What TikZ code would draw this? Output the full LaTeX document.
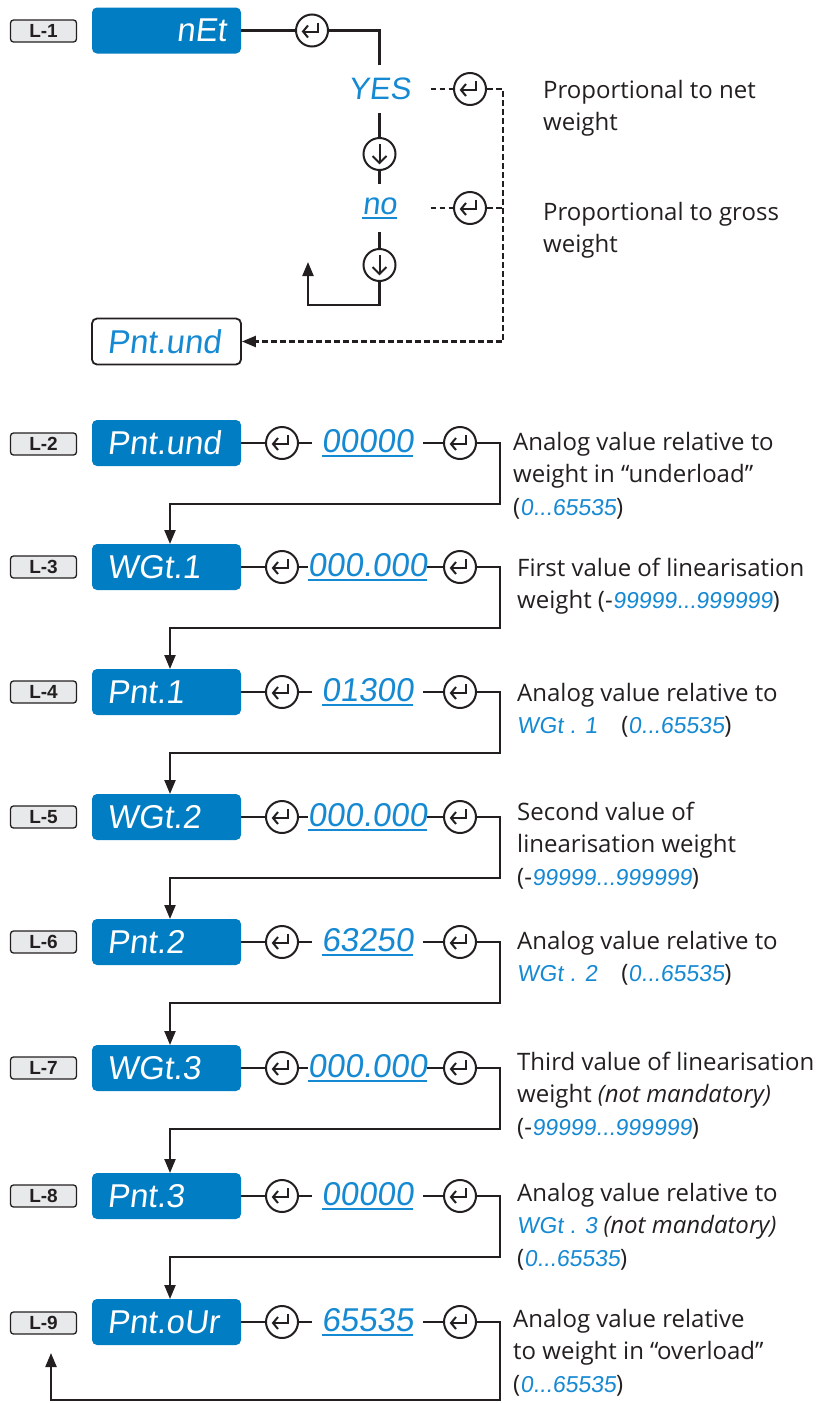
\documentclass[tikz,border=0pt]{standalone}
\usepackage{fontspec}
\setmainfont{Open Sans}
\newfontfamily\seg[FakeSlant=0.12]{Liberation Sans}
\newfontfamily\lblfont{Liberation Sans Bold}
\usetikzlibrary{arrows.meta}
\definecolor{boxblue}{HTML}{007DC3}
\definecolor{segblue}{HTML}{1689D3}
\definecolor{txt}{HTML}{231F20}
\definecolor{lblfill}{HTML}{E8E9EA}
\newcommand\sv[1]{{\seg\fontsize{23}{23}\selectfont\color{segblue}#1}}
\newcommand\segul[1]{\setbox0\hbox{#1}\rlap{\rule[-4.5pt]{\wd0}{1.5pt}}\box0}
\newcommand\fs{\rule{0pt}{24pt}}
\tikzset{
  conn/.style={line width=2.2pt, draw=txt},
  dsh/.style={conn, dash pattern=on 5.5pt off 3.5pt},
  arr/.style={conn, -{Triangle[length=14pt,width=11pt]}},
  lbl/.style={draw=txt, fill=lblfill, rounded corners=3pt, minimum width=66pt,
    minimum height=22pt, inner sep=0pt, line width=1.3pt, text=txt,
    font=\lblfont\fontsize{19}{19}\selectfont},
  disp/.style={fill=boxblue, rounded corners=5pt, minimum width=149pt, minimum height=46pt,
    inner xsep=15pt, inner ysep=0pt, text width=119pt, align=left, text=white,
    font=\seg\fontsize{33}{33}\selectfont},
  dispo/.style={disp, fill=white, draw=txt, line width=1.8pt, text=segblue},
  ent/.style={circle, draw=txt, line width=2pt, minimum size=32pt, inner sep=0pt,
    path picture={
      \draw[line width=2pt, line join=miter]
        ([shift={(6,-8)}]path picture bounding box.center) -- ++(0,9) -- ++(-15,0);
      \draw[line width=2pt, line join=miter]
        ([shift={(-4,-5)}]path picture bounding box.center) -- ++(-5,6) -- ++(5,6);
    }},
  dn/.style={circle, draw=txt, line width=2pt, minimum size=32pt, inner sep=0pt,
    path picture={
      \draw[line width=2pt]
        ([shift={(0,-10)}]path picture bounding box.center) -- ++(0,19);
      \draw[line width=2pt, line join=miter]
        ([shift={(-7,2)}]path picture bounding box.center) -- ++(7,7) -- ++(7,-7);
    }},
  val/.style={minimum width=111pt, minimum height=30pt, inner sep=0pt, text=segblue,
    font=\seg\fontsize{33}{33}\selectfont},
  opt/.style={minimum width=102pt, minimum height=48pt, inner sep=0pt, text=segblue,
    font=\seg\fontsize{31}{31}\selectfont},
  desc/.style={anchor=north west, inner sep=0pt, align=left, text=txt,
    font=\fontsize{24}{32.5}\selectfont},
}
\begin{document}
\begin{tikzpicture}[x=1pt,y=-1pt]
\useasboundingbox (0,0) rectangle (833,1403);

% ---------- L-1 ----------
\node[lbl] (L1) at (43.5,31) {L-1};
\node[disp, align=right] (B1) at (166.5,30.5) {nEt};
\node[ent] (e0) at (312,30.5) {};
\node[opt] (yes) at (379.5,89) {YES};
\node[dn] (d1) at (379.5,154) {};
\node[opt] (no) at (379.5,208) {\segul{no}};
\node[dn] (d2) at (379.5,265) {};
\node[ent] (e1) at (470,89) {};
\node[ent] (e2) at (470,208) {};
\coordinate (j1) at (503,89);
\coordinate (q1) at (308,305);
\coordinate (r1) at (308,262);
\node[dispo] (P0) at (166.5,341.5) {Pnt.und};
\draw[conn] (B1) -- (e0);
\draw[conn] (e0) -| (yes);
\draw[conn] (yes) -- (d1);
\draw[conn] (d1) -- (no);
\draw[conn] (no) -- (d2);
\draw[arr] (d2) |- (q1) -- (r1);
\draw[dsh] (yes) -- (e1);
\draw[dsh] (no) -- (e2);
\draw[dsh] (e2) -- (e2 -| j1);
\draw[dsh, -{Triangle[length=14pt,width=11pt]}] (e1) -- (j1) |- (P0);
\node[desc] (p1) at (543,74) {\fs Proportional to net\\weight};
\node[desc] (p2) at (543,196) {\fs Proportional to gross\\weight};

% ---------- rows 2..9 ----------
\node[lbl] (L2) at (43.5,444) {L-2};
\node[disp] (B2) at (166.5,443) {Pnt.und};
\node[ent] (a2) at (282,443) {};
\node[val] (v2) at (367.5,443) {\segul{00000}};
\node[ent] (b2) at (460,443) {};

\node[lbl] (L3) at (43.5,567) {L-3};
\node[disp] (B3) at (166.5,567) {WGt.1};
\node[ent] (a3) at (282,567) {};
\node[val] (v3) at (367.5,567) {\segul{000.000}};
\node[ent] (b3) at (460,567) {};

\node[lbl] (L4) at (43.5,692) {L-4};
\node[disp] (B4) at (166.5,692) {Pnt.1};
\node[ent] (a4) at (282,692) {};
\node[val] (v4) at (367.5,692) {\segul{01300}};
\node[ent] (b4) at (460,692) {};

\node[lbl] (L5) at (43.5,817) {L-5};
\node[disp] (B5) at (166.5,817) {WGt.2};
\node[ent] (a5) at (282,817) {};
\node[val] (v5) at (367.5,817) {\segul{000.000}};
\node[ent] (b5) at (460,817) {};

\node[lbl] (L6) at (43.5,942) {L-6};
\node[disp] (B6) at (166.5,942) {Pnt.2};
\node[ent] (a6) at (282,942) {};
\node[val] (v6) at (367.5,942) {\segul{63250}};
\node[ent] (b6) at (460,942) {};

\node[lbl] (L7) at (43.5,1068) {L-7};
\node[disp] (B7) at (166.5,1068) {WGt.3};
\node[ent] (a7) at (282,1068) {};
\node[val] (v7) at (367.5,1068) {\segul{000.000}};
\node[ent] (b7) at (460,1068) {};

\node[lbl] (L8) at (43.5,1196) {L-8};
\node[disp] (B8) at (166.5,1196) {Pnt.3};
\node[ent] (a8) at (282,1196) {};
\node[val] (v8) at (367.5,1196) {\segul{00000}};
\node[ent] (b8) at (460,1196) {};

\node[lbl] (L9) at (43.5,1323) {L-9};
\node[disp] (B9) at (166.5,1322) {Pnt.oUr};
\node[ent] (a9) at (282,1322) {};
\node[val] (v9) at (367.5,1322) {\segul{65535}};
\node[ent] (b9) at (460,1322) {};

\foreach \i in {2,...,9}{
  \draw[conn] (B\i) -- (a\i);
  \draw[conn] (a\i) -- (v\i);
  \draw[conn] (v\i) -- (b\i);
}
\coordinate (k2) at (500,504);  \coordinate (t3) at (170,544);
\coordinate (k3) at (500,628);  \coordinate (t4) at (170,669);
\coordinate (k4) at (500,753);  \coordinate (t5) at (170,794);
\coordinate (k5) at (500,878);  \coordinate (t6) at (170,919);
\coordinate (k6) at (500,1003); \coordinate (t7) at (170,1045);
\coordinate (k7) at (500,1129); \coordinate (t8) at (170,1173);
\coordinate (k8) at (500,1257); \coordinate (t9) at (170,1299);
\coordinate (k9) at (500,1400); \coordinate (r9) at (51,1353);
\draw[arr] (b2) -| (k2) -| (t3);
\draw[arr] (b3) -| (k3) -| (t4);
\draw[arr] (b4) -| (k4) -| (t5);
\draw[arr] (b5) -| (k5) -| (t6);
\draw[arr] (b6) -| (k6) -| (t7);
\draw[arr] (b7) -| (k7) -| (t8);
\draw[arr] (b8) -| (k8) -| (t9);
\draw[arr] (b9) -| (k9) -| (r9);

% ---------- descriptions ----------
\node[desc] (D2) at (513,426) {\fs Analog value relative to\\weight in “underload”\\(\sv{0...65535})};
\node[desc] (D3) at (517,552) {\fs First value of linearisation\\weight (-\sv{99999...999999})};
\node[desc] (D4) at (517,677) {\fs Analog value relative to\\\sv{WGt . 1}\quad(\sv{0...65535})};
\node[desc] (D5) at (517,796) {\fs Second value of\\linearisation weight\\(-\sv{99999...999999})};
\node[desc] (D6) at (517,925) {\fs Analog value relative to\\\sv{WGt . 2}\quad(\sv{0...65535})};
\node[desc] (D7) at (517,1046) {\fs Third value of linearisation\\weight \textit{(not mandatory)}\\(-\sv{99999...999999})};
\node[desc] (D8) at (517,1177) {\fs Analog value relative to\\\sv{WGt . 3} \textit{(not mandatory)}\\(\sv{0...65535})};
\node[desc] (D9) at (513,1303) {\fs Analog value relative\\to weight in “overload”\\(\sv{0...65535})};
\end{tikzpicture}
\end{document}
